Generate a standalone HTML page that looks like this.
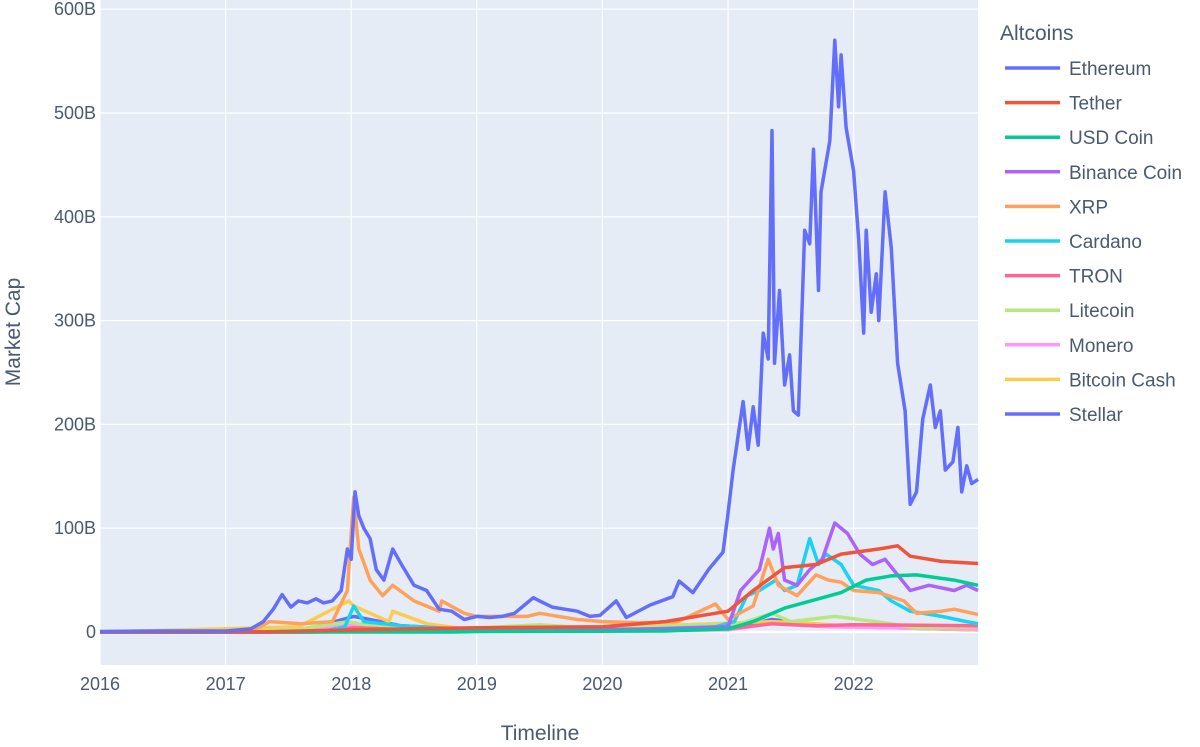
<!DOCTYPE html>
<html><head><meta charset="utf-8"><style>
body{margin:0;background:#fff;}
svg{font-family:"Liberation Sans",sans-serif;}
</style></head><body>
<svg id="chart" width="1200" height="742">
<rect x="100" y="0" width="878" height="665" fill="#E5ECF6"/>
<g id="grid"></g><g id="series"></g><g id="axes"></g><g id="legend"></g>
<text x="540" y="740" text-anchor="middle" font-size="21" fill="#4a5a70">Timeline</text>
<text transform="translate(20,332) rotate(-90)" text-anchor="middle" font-size="21" fill="#4a5a70">Market Cap</text>
</svg>
<script>
const yTicks=[0,100,200,300,400,500,600];
const yTickLabels=["0","100B","200B","300B","400B","500B","600B"];
const xTicks=[2016,2017,2018,2019,2020,2021,2022];
const seriesNames=["Ethereum","Tether","USD Coin","Binance Coin","XRP","Cardano","TRON","Litecoin","Monero","Bitcoin Cash","Stellar"];
const ethDates=[2016,2016.5,2017,2017.2,2017.3,2017.38,2017.45,2017.52,2017.58,2017.65,2017.72,2017.78,2017.85,2017.92,2017.97,2018.0,2018.03,2018.06,2018.1,2018.15,2018.2,2018.26,2018.33,2018.4,2018.5,2018.6,2018.7,2018.8,2018.9,2019.0,2019.1,2019.2,2019.3,2019.4,2019.45,2019.5,2019.6,2019.7,2019.8,2019.9,2019.98,2020.11,2020.19,2020.38,2020.56,2020.61,2020.72,2020.85,2020.96,2021.0,2021.04,2021.12,2021.16,2021.2,2021.24,2021.28,2021.32,2021.35,2021.37,2021.41,2021.45,2021.49,2021.52,2021.56,2021.61,2021.65,2021.68,2021.72,2021.74,2021.81,2021.85,2021.88,2021.9,2021.94,2022.0,2022.04,2022.08,2022.1,2022.14,2022.18,2022.2,2022.25,2022.3,2022.35,2022.41,2022.45,2022.5,2022.55,2022.61,2022.65,2022.69,2022.73,2022.79,2022.83,2022.86,2022.9,2022.94,2022.99];
const ethValues=[0.5,1,1,3,10,22,36,24,30,28,32,28,30,40,80,70,135,112,100,90,60,50,80,65,45,40,22,20,12,15,14,15,18,28,33,30,24,22,20,15,16,30,14,26,34,49,38,61,77,114,156,222,176,217,180,288,263,483,259,329,238,267,213,209,387,374,465,329,424,473,570,506,556,486,444,378,288,387,308,345,300,424,370,259,213,123,135,205,238,197,213,156,164,197,135,160,143,147];
const tetherDates=[2016,2017.3,2018,2019,2020,2020.5,2021,2021.2,2021.45,2021.7,2021.9,2022.2,2022.35,2022.45,2022.7,2022.99];
const tetherValues=[0,0.1,2,4,5,10,20,40,62,65,75,80,83,73,68,66];
const usdcDates=[2016,2018.8,2019,2020.5,2021,2021.2,2021.45,2021.6,2021.9,2022.1,2022.3,2022.5,2022.8,2022.99];
const usdcValues=[0,0,0.5,1,3,10,23,28,38,50,54,55,50,45];
const bnbDates=[2016,2017.6,2018,2019.5,2020.5,2021,2021.1,2021.25,2021.33,2021.36,2021.4,2021.45,2021.55,2021.65,2021.75,2021.85,2021.95,2022.05,2022.15,2022.25,2022.35,2022.45,2022.6,2022.8,2022.9,2022.99];
const bnbValues=[0,0,1,2,3,5,40,60,100,80,95,50,45,60,70,105,95,75,65,70,55,40,45,40,45,40];
const xrpDates=[2016,2017.2,2017.35,2017.6,2017.85,2017.97,2018.02,2018.06,2018.15,2018.25,2018.33,2018.5,2018.7,2018.72,2018.9,2019.0,2019.4,2019.5,2019.8,2020.0,2020.3,2020.6,2020.9,2021.0,2021.2,2021.32,2021.4,2021.55,2021.7,2021.8,2021.9,2022.0,2022.2,2022.4,2022.5,2022.7,2022.8,2022.99];
const xrpValues=[0,0.5,10,8,10,40,130,80,50,35,45,30,20,30,18,15,15,18,12,10,9,10,27,12,25,70,45,35,55,50,48,40,38,30,18,20,22,17];
const adaDates=[2016,2017.75,2017.95,2018.02,2018.1,2018.4,2019,2020,2020.9,2021.05,2021.15,2021.25,2021.38,2021.45,2021.55,2021.65,2021.72,2021.78,2021.9,2022.0,2022.2,2022.3,2022.45,2022.7,2022.9,2022.99];
const adaValues=[0,0,5,25,10,6,2,1.5,5,10,35,40,50,40,45,90,65,75,65,45,40,30,20,15,10,8];
const trxDates=[2016,2017.7,2018.02,2018.5,2019,2020,2021,2021.35,2021.7,2022,2022.99];
const trxValues=[0,0,4,2,1.5,1,3,8,6,7,6];
const ltcDates=[2016,2017.2,2017.6,2017.98,2018.2,2018.9,2019.5,2020,2021.1,2021.35,2021.5,2021.85,2022.3,2022.5,2022.99];
const ltcValues=[0.2,0.5,3,10,5,3,7,3,8,18,10,15,8,4,5];
const xmrDates=[2016,2017.5,2017.98,2018.3,2019,2020,2021,2021.35,2021.8,2022.99];
const xmrValues=[0,0.5,7,3,1,1,2,8,5,3];
const bchDates=[2016,2017.58,2017.98,2018.02,2018.3,2018.33,2018.6,2018.9,2019.5,2020,2021.35,2021.7,2022,2022.99];
const bchValues=[0,5,30,25,10,20,8,3,5,4,10,8,5,2];
const xlmDates=[2016,2017.2,2017.6,2018.02,2018.4,2019,2020,2021.1,2021.35,2021.7,2022,2022.99];
const xlmValues=[0,0,1,15,6,2,1,5,12,7,5,2];
const seriesDates=[ethDates,tetherDates,usdcDates,bnbDates,xrpDates,adaDates,trxDates,ltcDates,xmrDates,bchDates,xlmDates];
const seriesValues=[ethValues,tetherValues,usdcValues,bnbValues,xrpValues,adaValues,trxValues,ltcValues,xmrValues,bchValues,xlmValues];
const colors=["#636EFA","#EF553B","#00CC96","#AB63FA","#FFA15A","#19D3F3","#FF6692","#B6E880","#FF97FF","#FECB52","#636EFA"];

const NS="http://www.w3.org/2000/svg";
const X0=100,X1=978,xMin=2016,xMax=2022.99;
const Y0=632,pxPerB=1.038;
const xs=v=>X0+(v-xMin)*(X1-X0)/(xMax-xMin);
const ys=v=>Y0-v*pxPerB;
function mk(tag,attrs,parent){const e=document.createElementNS(NS,tag);for(const k in attrs)e.setAttribute(k,attrs[k]);parent.appendChild(e);return e;}
const grid=document.getElementById('grid'),axes=document.getElementById('axes'),ser=document.getElementById('series'),leg=document.getElementById('legend');
yTicks.forEach((t,i)=>{
  const l=mk('line',{x1:X0,x2:X1,y1:ys(t),y2:ys(t),stroke:'#fff','stroke-width':t===0?2.5:1.2},grid);
  
  
  const tx=mk('text',{x:96,y:ys(t)+6,'text-anchor':'end','font-size':18,fill:'#4a5a70'},axes);
  tx.textContent=yTickLabels[i];
  
  
});
xTicks.forEach(t=>{
  const l=mk('line',{x1:xs(t),x2:xs(t),y1:0,y2:665,stroke:'#fff','stroke-width':1.2},grid);
  
  
  const tx=mk('text',{x:xs(t),y:690,'text-anchor':'middle','font-size':18,fill:'#4a5a70'},axes);
  tx.textContent=String(t);
  
  
});
for(let s=seriesNames.length-1;s>=0;s--){
  const d=seriesDates[s].map((dt,i)=>(i?'L':'M')+xs(dt).toFixed(1)+','+ys(seriesValues[s][i]).toFixed(1)).join('');
  const p=mk('path',{d:d,fill:'none',stroke:colors[s],'stroke-width':3.5,'stroke-linejoin':'round'},ser);
  
  
}
const lt=mk('text',{x:1000,y:40,'font-size':21,fill:'#4a5a70'},leg);
lt.textContent='Altcoins';


seriesNames.forEach((n,i)=>{
  const y=68+i*34.6;
  const g=mk('g',{},leg);
  
  
  mk('line',{x1:1005,x2:1060,y1:y,y2:y,stroke:colors[i],'stroke-width':3.5},g);
  const t=mk('text',{x:1069,y:y+7,'font-size':19,fill:'#4a5a70'},g);
  t.textContent=n;
});
</script>
</body></html>
